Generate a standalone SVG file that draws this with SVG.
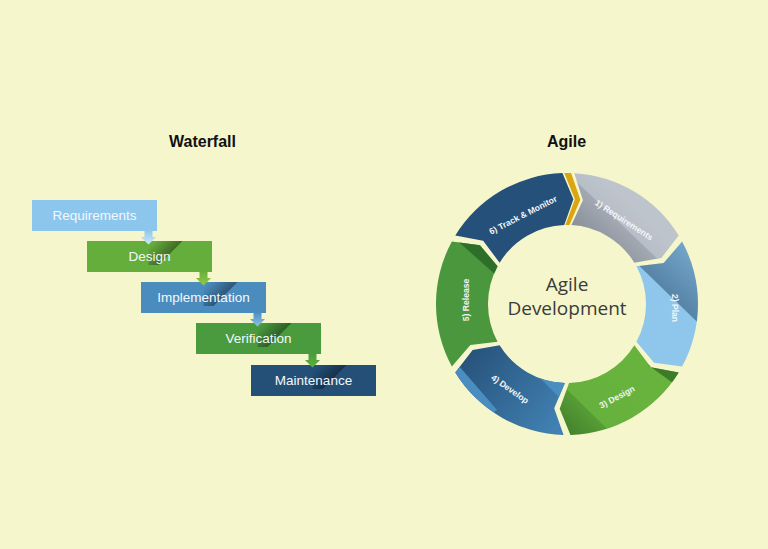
<svg xmlns="http://www.w3.org/2000/svg" xmlns:xlink="http://www.w3.org/1999/xlink" width="768" height="549" viewBox="0 0 768 549">
<style>
.title{font-family:"Liberation Sans",Arial,sans-serif;font-weight:bold;font-size:16px;fill:#111;text-anchor:middle}
.box-text{font-family:"Liberation Sans",Arial,sans-serif;font-size:13.5px;fill:#f4f8fb;text-anchor:middle}
.seg-text{font-family:"Liberation Sans",Arial,sans-serif;font-weight:bold;font-size:8.6px;fill:#f3f5f8;text-anchor:middle}
.center-text{font-family:"Open Sans","Liberation Sans",sans-serif;font-size:19px;fill:#3b3b3b;text-anchor:middle}
</style>
<defs>
<linearGradient id="shadow" gradientUnits="userSpaceOnUse" x1="8" y1="-2" x2="22" y2="12">
<stop offset="0" stop-color="#000" stop-opacity="0"/>
<stop offset="1" stop-color="#000" stop-opacity="0.38"/>
</linearGradient>
<linearGradient id="aReq" x1="0" y1="0" x2="0" y2="1"><stop offset="0" stop-color="#8dc6ec"/><stop offset="1" stop-color="#cfe8f7"/></linearGradient>
<linearGradient id="aDes" x1="0" y1="0" x2="0" y2="1"><stop offset="0" stop-color="#66ae3c"/><stop offset="1" stop-color="#92c842"/></linearGradient>
<linearGradient id="aImp" x1="0" y1="0" x2="0" y2="1"><stop offset="0" stop-color="#4b8cbf"/><stop offset="1" stop-color="#8cc2e6"/></linearGradient>
<linearGradient id="aVer" x1="0" y1="0" x2="0" y2="1"><stop offset="0" stop-color="#4a9a3e"/><stop offset="1" stop-color="#5fb03b"/></linearGradient>
<linearGradient id="gReq" gradientUnits="userSpaceOnUse" x1="588" y1="247" x2="630" y2="203">
<stop offset="0" stop-color="#858c96"/><stop offset="0.64" stop-color="#a3a9b2"/><stop offset="0.655" stop-color="#b8bec7"/><stop offset="1" stop-color="#bec4cc"/>
</linearGradient>
<linearGradient id="gPlan" gradientUnits="userSpaceOnUse" x1="640" y1="320" x2="700" y2="258">
<stop offset="0" stop-color="#8ec6ec"/><stop offset="0.44" stop-color="#8ec6ec"/><stop offset="0.45" stop-color="#5784a7"/><stop offset="1" stop-color="#74a6cb"/>
</linearGradient>
<linearGradient id="gDes" gradientUnits="userSpaceOnUse" x1="554.6" y1="439.7" x2="617.4" y2="375.3">
<stop offset="0" stop-color="#3b7526"/><stop offset="0.49" stop-color="#569d36"/><stop offset="0.5" stop-color="#66b03d"/><stop offset="1" stop-color="#68b23e"/>
</linearGradient>
<linearGradient id="gDev" gradientUnits="userSpaceOnUse" x1="470" y1="350" x2="560" y2="420">
<stop offset="0" stop-color="#27537b"/><stop offset="1" stop-color="#4080b2"/>
</linearGradient>
<path id="pReq" d="M574.31,173.20 A131,131 0 0 1 678.70,235.55 L661.37,257.97 L634.36,262.72 A79,79 0 0 0 571.41,225.12 L582.88,200.21 Z"/>
<path id="pPlan" d="M682.13,241.49 A131,131 0 0 1 682.13,366.51 L654.05,362.71 L636.43,341.70 A79,79 0 0 0 636.43,266.30 L663.65,262.97 Z"/>
<path id="pDes" d="M678.70,372.45 A131,131 0 0 1 570.43,434.96 L559.68,408.74 L569.07,382.97 A79,79 0 0 0 634.36,345.28 L650.86,367.19 Z"/>
<path id="pDev" d="M563.57,434.96 A131,131 0 0 1 455.30,372.45 L472.63,350.03 L499.64,345.28 A79,79 0 0 0 564.93,382.97 L554.20,408.22 Z"/>
<path id="pRel" d="M451.87,366.51 A131,131 0 0 1 451.87,241.49 L479.95,245.29 L497.57,266.30 A79,79 0 0 0 497.57,341.70 L470.35,345.03 Z"/>
<path id="pTrk" d="M455.30,235.55 A131,131 0 0 1 562.43,173.08 L573.41,199.20 L564.24,225.05 A79,79 0 0 0 499.64,262.72 L483.14,240.81 Z"/>
<clipPath id="cDes"><use xlink:href="#pDes"/></clipPath>
<clipPath id="cDev"><use xlink:href="#pDev"/></clipPath>
<clipPath id="cRel"><use xlink:href="#pRel"/></clipPath>
</defs>
<rect x="0" y="0" width="768" height="549" fill="#f5f6cb"/>

<g id="title-waterfall"><text class="title" x="202.5" y="147">Waterfall</text></g>
<g id="title-agile"><text class="title" x="566.5" y="147">Agile</text></g>

<!-- Waterfall nodes -->
<g id="wf-requirements">
<rect x="32" y="200" width="125" height="31" fill="#8dc6ec"/>
<text class="box-text" x="94.5" y="220">Requirements</text>
</g>
<g id="wf-design">
<rect x="87" y="241" width="125" height="31" fill="#66ae3c"/>
<polygon transform="translate(148.5,241)" points="0,0 34,0 10,24 0,24" fill="url(#shadow)"/>
<text class="box-text" x="149.5" y="261">Design</text>
</g>
<g id="wf-implementation">
<rect x="141" y="282" width="125" height="31" fill="#4b8cbf"/>
<polygon transform="translate(203.5,282)" points="0,0 34,0 10,24 0,24" fill="url(#shadow)"/>
<text class="box-text" x="203.5" y="302">Implementation</text>
</g>
<g id="wf-verification">
<rect x="196" y="323" width="125" height="31" fill="#4a9a3e"/>
<polygon transform="translate(257.5,323)" points="0,0 34,0 10,24 0,24" fill="url(#shadow)"/>
<text class="box-text" x="258.5" y="343">Verification</text>
</g>
<g id="wf-maintenance">
<rect x="251" y="365" width="125" height="31" fill="#245078"/>
<polygon transform="translate(312.5,365)" points="0,0 34,0 10,24 0,24" fill="url(#shadow)"/>
<text class="box-text" x="313.5" y="385">Maintenance</text>
</g>

<!-- Waterfall connectors -->
<g id="connectors">
<path transform="translate(148.5,231)" d="M-4,-1 H4 V6 H7.5 L0,13.5 L-7.5,6 H-4 Z" fill="url(#aReq)"/>
<path transform="translate(203.5,272)" d="M-4,-1 H4 V6 H7.5 L0,13.5 L-7.5,6 H-4 Z" fill="url(#aDes)"/>
<path transform="translate(257.5,313)" d="M-4,-1 H4 V6 H7.5 L0,13.5 L-7.5,6 H-4 Z" fill="url(#aImp)"/>
<path transform="translate(312.5,354)" d="M-4,-1 H4 V6 H7.5 L0,13.5 L-7.5,6 H-4 Z" fill="url(#aVer)"/>
</g>

<!-- Agile ring -->
<g id="ag-requirements">
<use xlink:href="#pReq" fill="url(#gReq)"/>
<text class="seg-text" transform="translate(624,220) rotate(33)" y="3">1) Requirements</text>
</g>
<g id="ag-plan">
<use xlink:href="#pPlan" fill="url(#gPlan)"/>
<text class="seg-text" transform="translate(675,308) rotate(90)" y="3">2) Plan</text>
</g>
<g id="ag-design">
<use xlink:href="#pDes" fill="url(#gDes)"/>
<polygon clip-path="url(#cDes)" points="648,365 682,370 673,383" fill="#3c7b27"/>
<text class="seg-text" transform="translate(617,397) rotate(-28)" y="3">3) Design</text>
</g>
<g id="ag-develop">
<use xlink:href="#pDev" fill="url(#gDev)"/>
<g clip-path="url(#cDev)">
<polygon points="532,370 585,370 585,423" fill="#4a8ec1"/>
<polygon points="448,366 459,366 497,410 487,416" fill="#4a8ec1"/>
</g>
<text class="seg-text" transform="translate(510,389) rotate(35)" y="3">4) Develop</text>
</g>
<g id="ag-release">
<use xlink:href="#pRel" fill="#4a973e"/>
<polygon clip-path="url(#cRel)" points="452,236 484,236 506,260 506,284" fill="#2f6e2a"/>
<text class="seg-text" transform="translate(466,300) rotate(-90)" y="3">5) Release</text>
</g>
<g id="ag-track">
<use xlink:href="#pTrk" fill="#245079"/>
<text class="seg-text" transform="translate(523,215) rotate(-27)" y="3">6) Track &amp; Monitor</text>
</g>
<g id="ag-marker">
<path d="M564.26,173.03 A131,131 0 0 1 571.11,173.06 L580.34,199.85 L569.48,225.04 A79,79 0 0 0 565.35,225.02 L574.87,199.30 Z" fill="#dba511"/>
</g>
<g id="ag-center">
<text class="center-text" x="567" y="291">Agile</text>
<text class="center-text" x="567" y="315">Development</text>
</g>
</svg>
